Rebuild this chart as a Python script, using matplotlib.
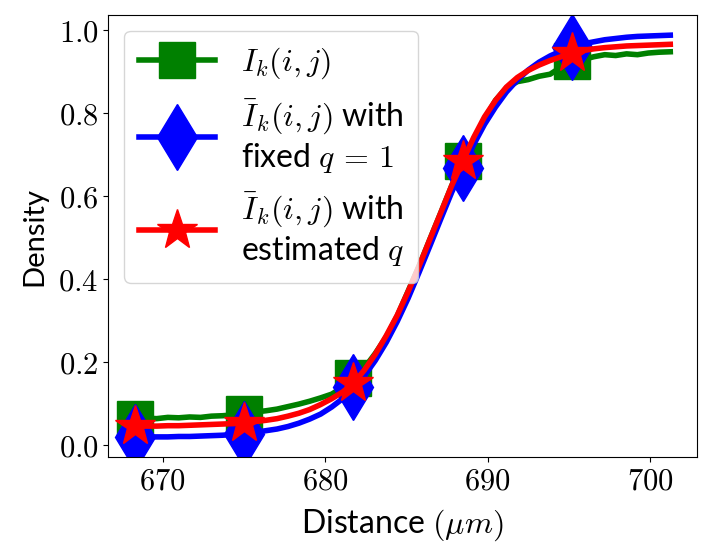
import numpy as np
import matplotlib
matplotlib.use('Agg')
import matplotlib.pyplot as plt
from matplotlib.ticker import FuncFormatter

plt.rcParams['mathtext.fontset'] = 'cm'
plt.rcParams['font.family'] = ['Lato', 'DejaVu Sans']

# distance samples (um), markers every 10th sample
distance = [668.30, 668.97, 669.64, 670.32, 670.99, 671.66, 672.33, 673.00, 673.68, 674.35,
            675.02, 675.69, 676.36, 677.04, 677.71, 678.38, 679.05, 679.72, 680.40, 681.07,
            681.74, 682.41, 683.08, 683.76, 684.43, 685.10, 685.77, 686.44, 687.12, 687.79,
            688.46, 689.13, 689.80, 690.48, 691.15, 691.82, 692.49, 693.16, 693.84, 694.51,
            695.18, 695.85, 696.52, 697.20, 697.87, 698.54, 699.21, 699.88, 700.56, 701.23]

measured = [0.062, 0.064, 0.063, 0.066, 0.065, 0.067, 0.066, 0.069, 0.070, 0.072,
            0.075, 0.079, 0.082, 0.086, 0.092, 0.098, 0.105, 0.113, 0.122, 0.138,
            0.160, 0.185, 0.220, 0.260, 0.310, 0.370, 0.430, 0.495, 0.560, 0.625,
            0.685, 0.735, 0.785, 0.830, 0.860, 0.875, 0.880, 0.888, 0.893, 0.910,
            0.925, 0.928, 0.935, 0.940, 0.938, 0.942, 0.940, 0.944, 0.946, 0.947]

fixed_q = [0.019, 0.019, 0.019, 0.019, 0.020, 0.020, 0.021, 0.022, 0.023, 0.025,
           0.027, 0.030, 0.034, 0.038, 0.044, 0.052, 0.062, 0.074, 0.091, 0.111,
           0.140, 0.166, 0.203, 0.247, 0.297, 0.353, 0.415, 0.479, 0.545, 0.609,
           0.667, 0.723, 0.772, 0.814, 0.850, 0.879, 0.903, 0.922, 0.937, 0.949,
           0.958, 0.966, 0.971, 0.976, 0.979, 0.982, 0.984, 0.985, 0.986, 0.987]

estimated_q = [0.045, 0.045, 0.045, 0.046, 0.046, 0.047, 0.048, 0.049, 0.050, 0.051,
               0.053, 0.056, 0.059, 0.063, 0.069, 0.076, 0.085, 0.097, 0.111, 0.127,
               0.148, 0.180, 0.218, 0.263, 0.312, 0.369, 0.430, 0.495, 0.560, 0.625,
               0.683, 0.740, 0.790, 0.830, 0.862, 0.885, 0.902, 0.915, 0.926, 0.935,
               0.945, 0.950, 0.954, 0.957, 0.959, 0.961, 0.962, 0.963, 0.964, 0.965]

fig = plt.figure(figsize=(7.12, 5.59), dpi=100)
ax = fig.add_axes([0.152, 0.1825, 0.827, 0.7905])

ax.plot(distance, measured, color='green', lw=4, marker='s', markersize=26, markevery=10,
        label=r'$I_k(i,j)$')
ax.plot(distance, fixed_q, color='blue', lw=4, marker='d', markersize=34, markevery=10,
        label=r'$\bar{I}_k(i,j)$ with' + '\n' + r'fixed $q\,=\,1$')
ax.plot(distance, estimated_q, color='red', lw=4, marker='*', markersize=30, markevery=10,
        label=r'$\bar{I}_k(i,j)$ with' + '\n' + r'estimated $q$')

ax.set_xticks([670, 680, 690, 700])
ax.set_yticks([0.0, 0.2, 0.4, 0.6, 0.8, 1.0])
ax.xaxis.set_major_formatter(FuncFormatter(lambda v, p: f'${v:.0f}$'))
ax.yaxis.set_major_formatter(FuncFormatter(lambda v, p: f'${v:.1f}$'))
ax.tick_params(labelsize=22)

ax.set_xlabel(r'Distance $(\mu m)$', fontsize=23, labelpad=9)
ax.set_ylabel('Density', fontsize=21, labelpad=8)

ax.legend(loc='upper left', fontsize=23, handlelength=2.4, borderpad=0.45,
          labelspacing=0.5, handletextpad=0.8)

plt.savefig('out.png', dpi=100)
